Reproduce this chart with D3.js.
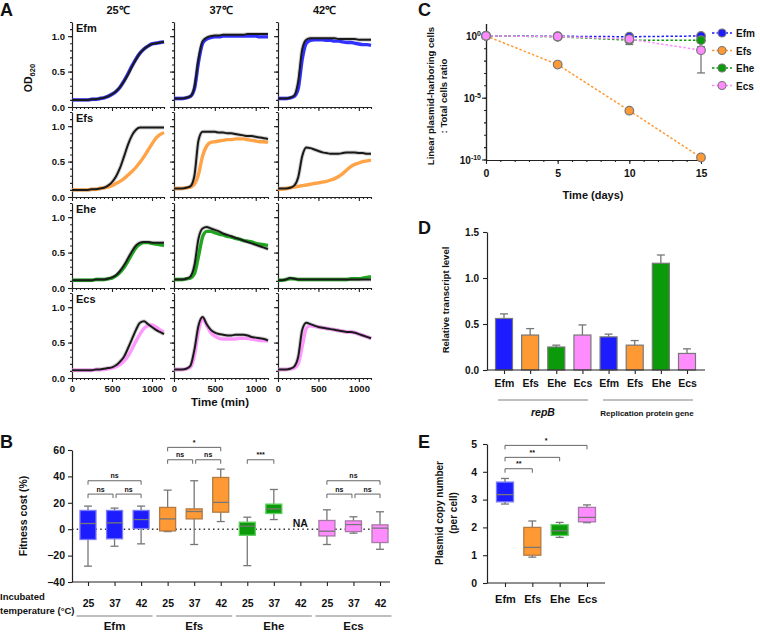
<!DOCTYPE html>
<html><head><meta charset="utf-8">
<script src="https://cdn.jsdelivr.net/npm/d3@7"></script>
<style>
body{margin:0;background:#fff}
svg text{font-family:'Liberation Sans',Arial,Helvetica,sans-serif;font-weight:bold;fill:#111}
</style>
</head><body><svg id="c" width="760" height="632"></svg>
<script>
// ---------------- DATA ----------------
const BLUE='#1c1cff', ORANGE='#ff9933', GREEN='#0a9a0a', PINK='#ff8cff';

// Panel A: growth curves (OD620) sampled every 50 min
const timeMin=[0,50,100,150,200,250,300,350,400,450,500,550,600,650,700,750,800,850,900,950,1000,1050,1100,1150];
const efm25K=[0.10,0.10,0.10,0.10,0.10,0.11,0.11,0.12,0.13,0.15,0.18,0.22,0.28,0.36,0.46,0.57,0.67,0.76,0.82,0.86,0.89,0.90,0.91,0.92];
const efm25C=[0.10,0.10,0.10,0.10,0.10,0.11,0.11,0.12,0.13,0.15,0.18,0.22,0.28,0.37,0.47,0.58,0.68,0.76,0.82,0.86,0.89,0.90,0.91,0.92];
const efm37K=[0.12,0.12,0.12,0.13,0.15,0.28,0.68,0.93,0.98,1.00,1.01,1.01,1.02,1.02,1.02,1.02,1.02,1.02,1.03,1.03,1.03,1.03,1.03,1.03];
const efm37C=[0.12,0.12,0.12,0.13,0.15,0.26,0.64,0.90,0.96,0.98,0.99,0.99,1.00,1.00,1.00,1.00,1.00,1.00,1.00,1.00,1.00,0.99,0.99,0.99];
const efm42K=[0.12,0.12,0.12,0.13,0.16,0.36,0.82,0.95,0.97,0.97,0.97,0.97,0.97,0.97,0.97,0.96,0.96,0.96,0.96,0.96,0.95,0.95,0.95,0.95];
const efm42C=[0.12,0.12,0.12,0.13,0.15,0.26,0.68,0.90,0.94,0.95,0.95,0.95,0.94,0.94,0.93,0.93,0.92,0.91,0.91,0.90,0.89,0.88,0.88,0.87];
const efs25K=[0.10,0.10,0.10,0.10,0.10,0.11,0.11,0.12,0.13,0.16,0.21,0.29,0.41,0.57,0.74,0.87,0.95,0.98,0.98,0.98,0.98,0.98,0.98,0.98];
const efs25C=[0.10,0.10,0.10,0.10,0.10,0.11,0.11,0.12,0.13,0.14,0.16,0.19,0.22,0.26,0.31,0.36,0.42,0.49,0.57,0.66,0.75,0.83,0.88,0.91];
const efs37K=[0.12,0.12,0.12,0.13,0.15,0.30,0.80,0.92,0.92,0.92,0.92,0.91,0.91,0.90,0.90,0.89,0.88,0.87,0.86,0.86,0.85,0.84,0.83,0.82];
const efs37C=[0.12,0.12,0.12,0.13,0.14,0.18,0.32,0.58,0.72,0.77,0.78,0.79,0.80,0.81,0.81,0.82,0.82,0.82,0.81,0.80,0.79,0.78,0.78,0.77];
const efs42K=[0.12,0.12,0.12,0.13,0.16,0.28,0.58,0.70,0.69,0.67,0.65,0.63,0.62,0.61,0.61,0.61,0.62,0.63,0.63,0.63,0.62,0.62,0.61,0.61];
const efs42C=[0.11,0.11,0.12,0.13,0.14,0.15,0.16,0.17,0.18,0.19,0.20,0.21,0.22,0.24,0.26,0.29,0.33,0.38,0.43,0.46,0.48,0.50,0.51,0.52];
const ehe25K=[0.11,0.11,0.11,0.11,0.11,0.11,0.12,0.12,0.12,0.13,0.15,0.18,0.24,0.32,0.42,0.52,0.60,0.64,0.65,0.65,0.64,0.64,0.64,0.64];
const ehe25C=[0.11,0.11,0.11,0.11,0.11,0.11,0.12,0.12,0.12,0.13,0.14,0.17,0.22,0.29,0.38,0.48,0.57,0.62,0.64,0.64,0.63,0.62,0.61,0.60];
const ehe37K=[0.12,0.12,0.12,0.13,0.16,0.32,0.70,0.84,0.86,0.84,0.82,0.80,0.77,0.75,0.73,0.71,0.69,0.67,0.65,0.63,0.61,0.59,0.57,0.55];
const ehe37C=[0.12,0.12,0.12,0.13,0.14,0.20,0.45,0.72,0.80,0.80,0.78,0.76,0.75,0.73,0.72,0.70,0.69,0.67,0.66,0.65,0.63,0.62,0.61,0.60];
const ehe42K=[0.11,0.11,0.12,0.14,0.13,0.12,0.12,0.12,0.12,0.12,0.12,0.12,0.12,0.12,0.12,0.12,0.12,0.12,0.12,0.12,0.12,0.12,0.12,0.12];
const ehe42C=[0.11,0.11,0.12,0.13,0.13,0.12,0.12,0.12,0.12,0.12,0.12,0.12,0.12,0.12,0.12,0.12,0.12,0.12,0.13,0.13,0.13,0.14,0.15,0.16];
const ecs25K=[0.11,0.11,0.11,0.11,0.11,0.11,0.12,0.12,0.13,0.14,0.15,0.18,0.23,0.30,0.42,0.55,0.68,0.78,0.80,0.76,0.72,0.68,0.65,0.62];
const ecs25C=[0.11,0.11,0.11,0.11,0.11,0.11,0.12,0.12,0.12,0.13,0.14,0.16,0.19,0.24,0.31,0.41,0.52,0.62,0.70,0.74,0.75,0.72,0.68,0.65];
const ecs37K=[0.12,0.12,0.12,0.13,0.17,0.40,0.74,0.86,0.76,0.68,0.64,0.62,0.61,0.60,0.60,0.61,0.61,0.61,0.60,0.58,0.57,0.56,0.55,0.53];
const ecs37C=[0.12,0.12,0.12,0.13,0.15,0.32,0.66,0.84,0.74,0.64,0.59,0.56,0.55,0.55,0.55,0.55,0.56,0.56,0.56,0.55,0.54,0.53,0.53,0.52];
const ecs42K=[0.12,0.12,0.12,0.13,0.16,0.30,0.68,0.78,0.76,0.74,0.72,0.71,0.70,0.69,0.68,0.67,0.66,0.65,0.65,0.64,0.62,0.60,0.58,0.56];
const ecs42C=[0.12,0.12,0.12,0.13,0.14,0.20,0.45,0.70,0.74,0.73,0.72,0.71,0.70,0.69,0.68,0.67,0.66,0.65,0.65,0.64,0.62,0.60,0.58,0.56];
const aStrains=['Efm','Efs','Ehe','Ecs'];
const aTemps=['25℃','37℃','42℃'];
const aXTicks=[0,500,1000];
const aYTicks=[0,0.5,1.0];

// Panel B: fitness cost box plots
const bTemps=['25','37','42','25','37','42','25','37','42','25','37','42'];
const bStrainOf=['Efm','Efm','Efm','Efs','Efs','Efs','Ehe','Ehe','Ehe','Ecs','Ecs','Ecs'];
const bMin=[-28,-12.9,-11.1,-1.8,-11.6,5.8,-27.6,7.3,null,-11.6,-3,-15.2];
const bQ1 =[-7.8,-7.3,0.5,-1.3,7.8,12.9,-4.6,11.9,null,-5.1,-1.8,-10.1];
const bMed=[4.3,4.8,7.3,7.8,13.4,20.3,2.3,15.4,null,-1.5,3.5,0.8];
const bQ3 =[14.2,14.2,14.2,16.5,15.4,39.2,5.3,19,null,6.6,6.3,3.3];
const bMax=[17.5,16,17.5,29.6,36.7,45.5,9.1,30.1,null,14.7,9.4,13.2];
const bGroups=['Efm','Efs','Ehe','Ecs'];
const bYTicks=[-40,-20,0,20,40,60];
// brackets: [from slot, to slot, level (%), label]
const bBrackets=[[0,2,36.7,'ns'],[0,1,26.6,'ns'],[1,2,26.6,'ns'],[3,5,62,'*'],[3,4,52.6,'ns'],[4,5,52.6,'ns'],[6,7,52.6,'***'],[9,11,36.7,'ns'],[9,10,26.6,'ns'],[10,11,26.6,'ns']];

// Panel C: plasmid stability
const cDays=[0,5,10,15];
const cEfm=[1.0,0.93,0.85,0.98];
const cEfs=[1.0,4.8e-3,8.9e-7,1.45e-10];
const cEhe=[1.0,0.85,0.45,0.45];
const cEcs=[1.0,0.88,0.55,0.069];
const cEcsLo=[null,null,0.2,1.0e-3];
const cEcsHi=[null,null,0.6,0.13];
const cNames=['Efm','Efs','Ehe','Ecs'];

// Panel D: relative transcript level
const dLabels=['Efm','Efs','Ehe','Ecs','Efm','Efs','Ehe','Ecs'];
const dVals=[0.56,0.38,0.25,0.38,0.36,0.27,1.16,0.18];
const dErr=[0.05,0.07,0.02,0.11,0.03,0.05,0.09,0.05];
const dYTicks=[0,0.5,1.0,1.5];

// Panel E: plasmid copy number
const eLabels=['Efm','Efs','Ehe','Ecs'];
const eMin=[2.84,0.93,1.64,2.17];
const eQ1=[2.92,1.0,1.71,2.20];
const eMed=[3.18,1.28,1.88,2.36];
const eQ3=[3.63,2.0,2.10,2.72];
const eMax=[3.76,2.23,2.18,2.81];
const eYTicks=[0,1,2,3,4,5];
const eBrackets=[[0,1,4.11,'**'],[0,2,4.52,'**'],[0,3,4.95,'*']];

// ---------------- DRAW ----------------
const svg=d3.select('#c');
const colorOf={Efm:BLUE,Efs:ORANGE,Ehe:GREEN,Ecs:PINK};
const edgeOf={Efm:'#7b7bf5',Efs:'#b27a45',Ehe:'#5fcf5f',Ecs:'#a57aa5'};
const AX='#222';
function styleAxis(g,fs){
  g.selectAll('.domain').attr('stroke',AX).attr('stroke-width',1.2);
  g.selectAll('.tick line').attr('stroke',AX).attr('stroke-width',1.1);
  g.selectAll('.tick text').attr('font-size',fs).attr('font-weight','bold').attr('fill','#111');
}
function label(x,y,t,fs,anchor,extra){
  const s=svg.append('text').attr('x',x).attr('y',y).attr('font-size',fs).attr('text-anchor',anchor||'start').text(t);
  if(extra) extra(s);
  return s;
}

// ---- Panel A ----
label(0,16,'A',18);
const aX=[[72,164],[174,268],[278,371]];
const aTop=[22,112,203,293];
const aH=85;
const aK=[[efm25K,efm37K,efm42K],[efs25K,efs37K,efs42K],[ehe25K,ehe37K,ehe42K],[ecs25K,ecs37K,ecs42K]];
const aC=[[efm25C,efm37C,efm42C],[efs25C,efs37C,efs42C],[ehe25C,ehe37C,ehe42C],[ecs25C,ecs37C,ecs42C]];
aStrains.forEach((s,r)=>{
  aTemps.forEach((t,c)=>{
    const top=aTop[r],[x0,x1]=aX[c];
    const xs=d3.scaleLinear().domain([0,1150]).range([x0,x1]);
    const ys=d3.scaleLinear().domain([0,1.2]).range([top+aH,top]);
    const g=svg.append('g');
    g.append('g').attr('transform',`translate(0,${top+aH})`)
      .call(d3.axisBottom(xs).tickValues(d3.range(0,1151,50)).tickSize(2).tickSizeOuter(0).tickFormat(''))
      .call(a=>styleAxis(a,8));
    g.append('g').attr('transform',`translate(${x0},0)`)
      .call(d3.axisLeft(ys).tickValues(d3.range(0,1.21,0.1)).tickSize(2).tickSizeOuter(0).tickFormat(''))
      .call(a=>styleAxis(a,8));
    g.append('g').attr('transform',`translate(0,${top+aH})`)
      .call(d3.axisBottom(xs).tickValues(aXTicks).tickSize(4).tickSizeOuter(0).tickFormat(r===3?d3.format('d'):''))
      .call(a=>styleAxis(a,9.5)).call(a=>a.select('.domain').remove());
    g.append('g').attr('transform',`translate(${x0},0)`)
      .call(d3.axisLeft(ys).tickValues(aYTicks).tickSize(4).tickSizeOuter(0).tickFormat(c===0?d3.format('.1f'):''))
      .call(a=>styleAxis(a,9.5)).call(a=>a.select('.domain').remove());
    const line=d3.line().x((d,i)=>xs(timeMin[i])).y(d=>ys(d)).curve(d3.curveMonotoneX);
    g.append('path').datum(aK[r][c]).attr('d',line).attr('fill','none').attr('stroke','#999').attr('stroke-width',4).attr('opacity',0.45);
    g.append('path').datum(aC[r][c]).attr('d',line).attr('fill','none').attr('stroke',colorOf[s]).attr('stroke-width',3.4).attr('opacity',0.9);
    g.append('path').datum(aK[r][c]).attr('d',line).attr('fill','none').attr('stroke','#1a1a1a').attr('stroke-width',2);
    if(c===0) label(x0+4,top+10,s,11);
    if(r===0) label((x0+x1)/2,14,t,11,'middle');
  });
});
label(32,78,'OD',10.5,'middle',s=>{
  s.attr('transform','rotate(-90,32,78)');
  s.append('tspan').attr('font-size',7.5).attr('dy',3).text('620');
});
label(220,406,'Time (min)',11.5,'middle');

// ---- Panel B ----
label(0,448,'B',18);
const bx=d3.scalePoint().domain(d3.range(12)).range([88,380]);
const by=d3.scaleLinear().domain([-40,60]).range([582,450]);
svg.append('line').attr('x1',72).attr('x2',390).attr('y1',by(0)).attr('y2',by(0))
  .attr('stroke','#333').attr('stroke-width',1.5).attr('stroke-dasharray','1.5,3.2');
svg.append('g').attr('transform','translate(72,0)')
  .call(d3.axisLeft(by).tickValues(bYTicks).tickSize(4).tickSizeOuter(0).tickPadding(3))
  .call(a=>styleAxis(a,10.5));
const bxa=svg.append('g').attr('transform','translate(0,582)')
  .call(d3.axisBottom(bx).tickSize(4).tickSizeOuter(0).tickPadding(14).tickFormat(i=>bTemps[i]))
  .call(a=>styleAxis(a,10.5));
bxa.select('.domain').remove();
svg.append('line').attr('x1',72).attr('x2',390).attr('y1',582).attr('y2',582).attr('stroke',AX).attr('stroke-width',1.2);
const bw=16;
d3.range(12).forEach(i=>{
  if(bMed[i]===null) return;
  const x=bx(i), s=bStrainOf[i];
  const g=svg.append('g');
  g.append('line').attr('x1',x).attr('x2',x).attr('y1',by(bMax[i])).attr('y2',by(bMin[i])).attr('stroke','#777').attr('stroke-width',1.3);
  [bMax[i],bMin[i]].forEach(v=>g.append('line').attr('x1',x-bw/4).attr('x2',x+bw/4).attr('y1',by(v)).attr('y2',by(v)).attr('stroke','#777').attr('stroke-width',1.3));
  g.append('rect').attr('x',x-bw/2).attr('y',by(bQ3[i])).attr('width',bw).attr('height',by(bQ1[i])-by(bQ3[i]))
    .attr('fill',colorOf[s]).attr('stroke',edgeOf[s]).attr('stroke-width',1.3);
  g.append('line').attr('x1',x-bw/2).attr('x2',x+bw/2).attr('y1',by(bMed[i])).attr('y2',by(bMed[i])).attr('stroke','#777').attr('stroke-width',1.3);
});
label(bx(8),527,'NA',10.5,'middle');
bBrackets.forEach(([a,b,lv,t])=>{
  let x1=bx(a),x2=bx(b);
  if(b-a===1){
    if(bBrackets.some(o=>o[0]===a && o[1]-o[0]===2)) x2-=1.5;
    else if(bBrackets.some(o=>o[1]===b && o[1]-o[0]===2)) x1+=1.5;
  }
  const y=by(lv);
  svg.append('path').attr('d',`M${x1},${y+4}V${y}H${x2}V${y+4}`).attr('fill','none').attr('stroke','#555').attr('stroke-width',0.9);
  label((x1+x2)/2,y-2.5,t,7,'middle',s=>s.attr('font-weight','normal').attr('fill','#333'));
});
label(0,600,'Incubated',9.5);
label(0,614,'temperature (°C)',9.5);
bGroups.forEach((gname,k)=>{
  const cx=bx(k*3+1);
  svg.append('line').attr('x1',cx-38).attr('x2',cx+38).attr('y1',616).attr('y2',616).attr('stroke','#aaa').attr('stroke-width',1.5);
  label(cx,630,gname,11.5,'middle');
});
label(27,516,'Fitness cost (%)',10.5,'middle',s=>s.attr('transform','rotate(-90,27,516)'));

// ---- Panel C ----
label(418,16,'C',18);
const cx=d3.scaleLinear().domain([0,15]).range([486,701]);
const cy=d3.scaleLog().domain([1e-10,10]).range([159.5,23.5]);
svg.append('g').attr('transform','translate(0,160)')
  .call(d3.axisBottom(cx).tickValues(d3.range(0,16,1)).tickSize(2).tickSizeOuter(0).tickFormat(''))
  .call(a=>styleAxis(a,10));
svg.append('g').attr('transform','translate(0,160)')
  .call(d3.axisBottom(cx).tickValues(cDays).tickSize(4).tickSizeOuter(0).tickPadding(6).tickFormat(d3.format('d')))
  .call(a=>styleAxis(a,10.5)).call(a=>a.select('.domain').remove());
svg.append('g').attr('transform','translate(486,0)')
  .call(d3.axisLeft(cy).tickValues(d3.range(-10,1).map(e=>Math.pow(10,e))).tickSize(2).tickSizeOuter(0).tickFormat(''))
  .call(a=>styleAxis(a,10));
svg.append('g').attr('transform','translate(486,0)')
  .call(d3.axisLeft(cy).tickValues([1e-10,1e-5,1]).tickSize(4).tickSizeOuter(0).tickFormat(''))
  .call(a=>styleAxis(a,10));
[[1,'0'],[1e-5,'-5'],[1e-10,'-10']].forEach(([v,e])=>{
  label(481,cy(v)+4,'10',10,'end',s=>{s.append('tspan').attr('font-size',7).attr('dy',-4).text(e);});
});
const cSeries=[cEfm,cEfs,cEhe,cEcs];
cDays.forEach((d,i)=>{
  if(cEcsLo[i]===null) return;
  const x=cx(d);
  svg.append('line').attr('x1',x).attr('x2',x).attr('y1',cy(cEcsHi[i])).attr('y2',cy(cEcsLo[i])).attr('stroke','#777').attr('stroke-width',1.3);
  [cEcsHi[i],cEcsLo[i]].forEach(v=>svg.append('line').attr('x1',x-4).attr('x2',x+4).attr('y1',cy(v)).attr('y2',cy(v)).attr('stroke','#777').attr('stroke-width',1.3));
});
const cLine=d3.line().x((d,i)=>cx(cDays[i])).y(d=>cy(d));
cSeries.forEach((ser,k)=>{
  const col=colorOf[cNames[k]];
  svg.append('path').datum(ser).attr('d',cLine).attr('fill','none').attr('stroke',col).attr('stroke-width',1.5).attr('stroke-dasharray','2.5,2');
});
cSeries.forEach((ser,k)=>{
  const col=colorOf[cNames[k]];
  svg.selectAll(null).data(ser).enter().append('circle').attr('cx',(d,i)=>cx(cDays[i])).attr('cy',d=>cy(d)).attr('r',4.3)
    .attr('fill',col).attr('stroke','#777').attr('stroke-width',1.2);
});
cNames.forEach((n,k)=>{
  const y=33+k*17.5, col=colorOf[n];
  svg.append('line').attr('x1',712).attr('x2',732).attr('y1',y).attr('y2',y).attr('stroke',col).attr('stroke-width',1.5).attr('stroke-dasharray','2.5,2');
  svg.append('circle').attr('cx',722).attr('cy',y).attr('r',4).attr('fill',col).attr('stroke','#777').attr('stroke-width',1.1);
  label(736,y+4,n,10);
});
label(434,96,'Linear plasmid-harboring cells',9.5,'middle',s=>s.attr('transform','rotate(-90,434,96)'));
label(447,96,': Total cells ratio',9.5,'middle',s=>s.attr('transform','rotate(-90,447,96)'));
label(593,199,'Time (days)',11,'middle');

// ---- Panel D ----
label(418,234,'D',18);
const dx=d3.scalePoint().domain(d3.range(8)).range([504,687]);
const dy=d3.scaleLinear().domain([0,1.5]).range([370,232]);
svg.append('g').attr('transform','translate(487,0)')
  .call(d3.axisLeft(dy).tickValues(dYTicks).tickSize(4).tickSizeOuter(0).tickPadding(4).tickFormat(d3.format('.1f')))
  .call(a=>styleAxis(a,10));
svg.append('g').attr('transform','translate(0,370)')
  .call(d3.axisBottom(dx).tickSize(4).tickSizeOuter(0).tickPadding(6).tickFormat(i=>dLabels[i]))
  .call(a=>styleAxis(a,10.5)).call(a=>a.select('.domain').remove());
const dw=17;
d3.range(8).forEach(i=>{
  const x=dx(i), col=colorOf[dLabels[i]];
  const top=dy(dVals[i]+dErr[i]);
  svg.append('line').attr('x1',x).attr('x2',x).attr('y1',top).attr('y2',dy(dVals[i])).attr('stroke','#777').attr('stroke-width',1.3);
  svg.append('line').attr('x1',x-4).attr('x2',x+4).attr('y1',top).attr('y2',top).attr('stroke','#777').attr('stroke-width',1.3);
  svg.append('rect').attr('x',x-dw/2).attr('y',dy(dVals[i])).attr('width',dw).attr('height',dy(0)-dy(dVals[i]))
    .attr('fill',col).attr('stroke','#777').attr('stroke-width',1.2);
});
svg.append('line').attr('x1',487).attr('x2',705).attr('y1',370).attr('y2',370).attr('stroke',AX).attr('stroke-width',1.2);
svg.append('line').attr('x1',498).attr('x2',588).attr('y1',400).attr('y2',400).attr('stroke','#aaa').attr('stroke-width',1.5);
svg.append('line').attr('x1',603).attr('x2',693).attr('y1',400).attr('y2',400).attr('stroke','#aaa').attr('stroke-width',1.5);
label(543,416,'repB',10.5,'middle',s=>s.attr('font-style','italic'));
label(647,416,'Replication protein gene',8,'middle');
label(449,300,'Relative transcript level',9.5,'middle',s=>s.attr('transform','rotate(-90,449,300)'));

// ---- Panel E ----
label(418,448,'E',18);
const ex=d3.scalePoint().domain(d3.range(4)).range([505,587]);
const ey=d3.scaleLinear().domain([0,5]).range([583,444]);
svg.append('g').attr('transform','translate(487,0)')
  .call(d3.axisLeft(ey).tickValues(eYTicks).tickSize(4).tickSizeOuter(0).tickPadding(6).tickFormat(d3.format('d')))
  .call(a=>styleAxis(a,10.5));
svg.append('g').attr('transform','translate(0,583)')
  .call(d3.axisBottom(ex).tickSize(4).tickSizeOuter(0).tickPadding(8).tickFormat(i=>eLabels[i]))
  .call(a=>styleAxis(a,11)).call(a=>a.select('.domain').remove());
svg.append('line').attr('x1',487).attr('x2',605).attr('y1',583).attr('y2',583).attr('stroke',AX).attr('stroke-width',1.2);
const ew=17;
d3.range(4).forEach(i=>{
  const x=ex(i), s=eLabels[i];
  svg.append('line').attr('x1',x).attr('x2',x).attr('y1',ey(eMax[i])).attr('y2',ey(eMin[i])).attr('stroke','#777').attr('stroke-width',1.3);
  [eMax[i],eMin[i]].forEach(v=>svg.append('line').attr('x1',x-4).attr('x2',x+4).attr('y1',ey(v)).attr('y2',ey(v)).attr('stroke','#777').attr('stroke-width',1.3));
  svg.append('rect').attr('x',x-ew/2).attr('y',ey(eQ3[i])).attr('width',ew).attr('height',ey(eQ1[i])-ey(eQ3[i]))
    .attr('fill',colorOf[s]).attr('stroke',edgeOf[s]).attr('stroke-width',1.3);
  svg.append('line').attr('x1',x-ew/2).attr('x2',x+ew/2).attr('y1',ey(eMed[i])).attr('y2',ey(eMed[i])).attr('stroke','#777').attr('stroke-width',1.3);
});
eBrackets.forEach(([a,b,lv,t])=>{
  const x1=ex(a),x2=ex(b),y=ey(lv);
  svg.append('path').attr('d',`M${x1},${y+4}V${y}H${x2}V${y+4}`).attr('fill','none').attr('stroke','#555').attr('stroke-width',0.9);
  label((x1+x2)/2,y-2.5,t,7,'middle',s=>s.attr('font-weight','normal').attr('fill','#333'));
});
label(443,513,'Plasmid copy number',10,'middle',s=>s.attr('transform','rotate(-90,443,513)'));
label(457,513,'(per cell)',10,'middle',s=>s.attr('transform','rotate(-90,457,513)'));
</script></body></html>
